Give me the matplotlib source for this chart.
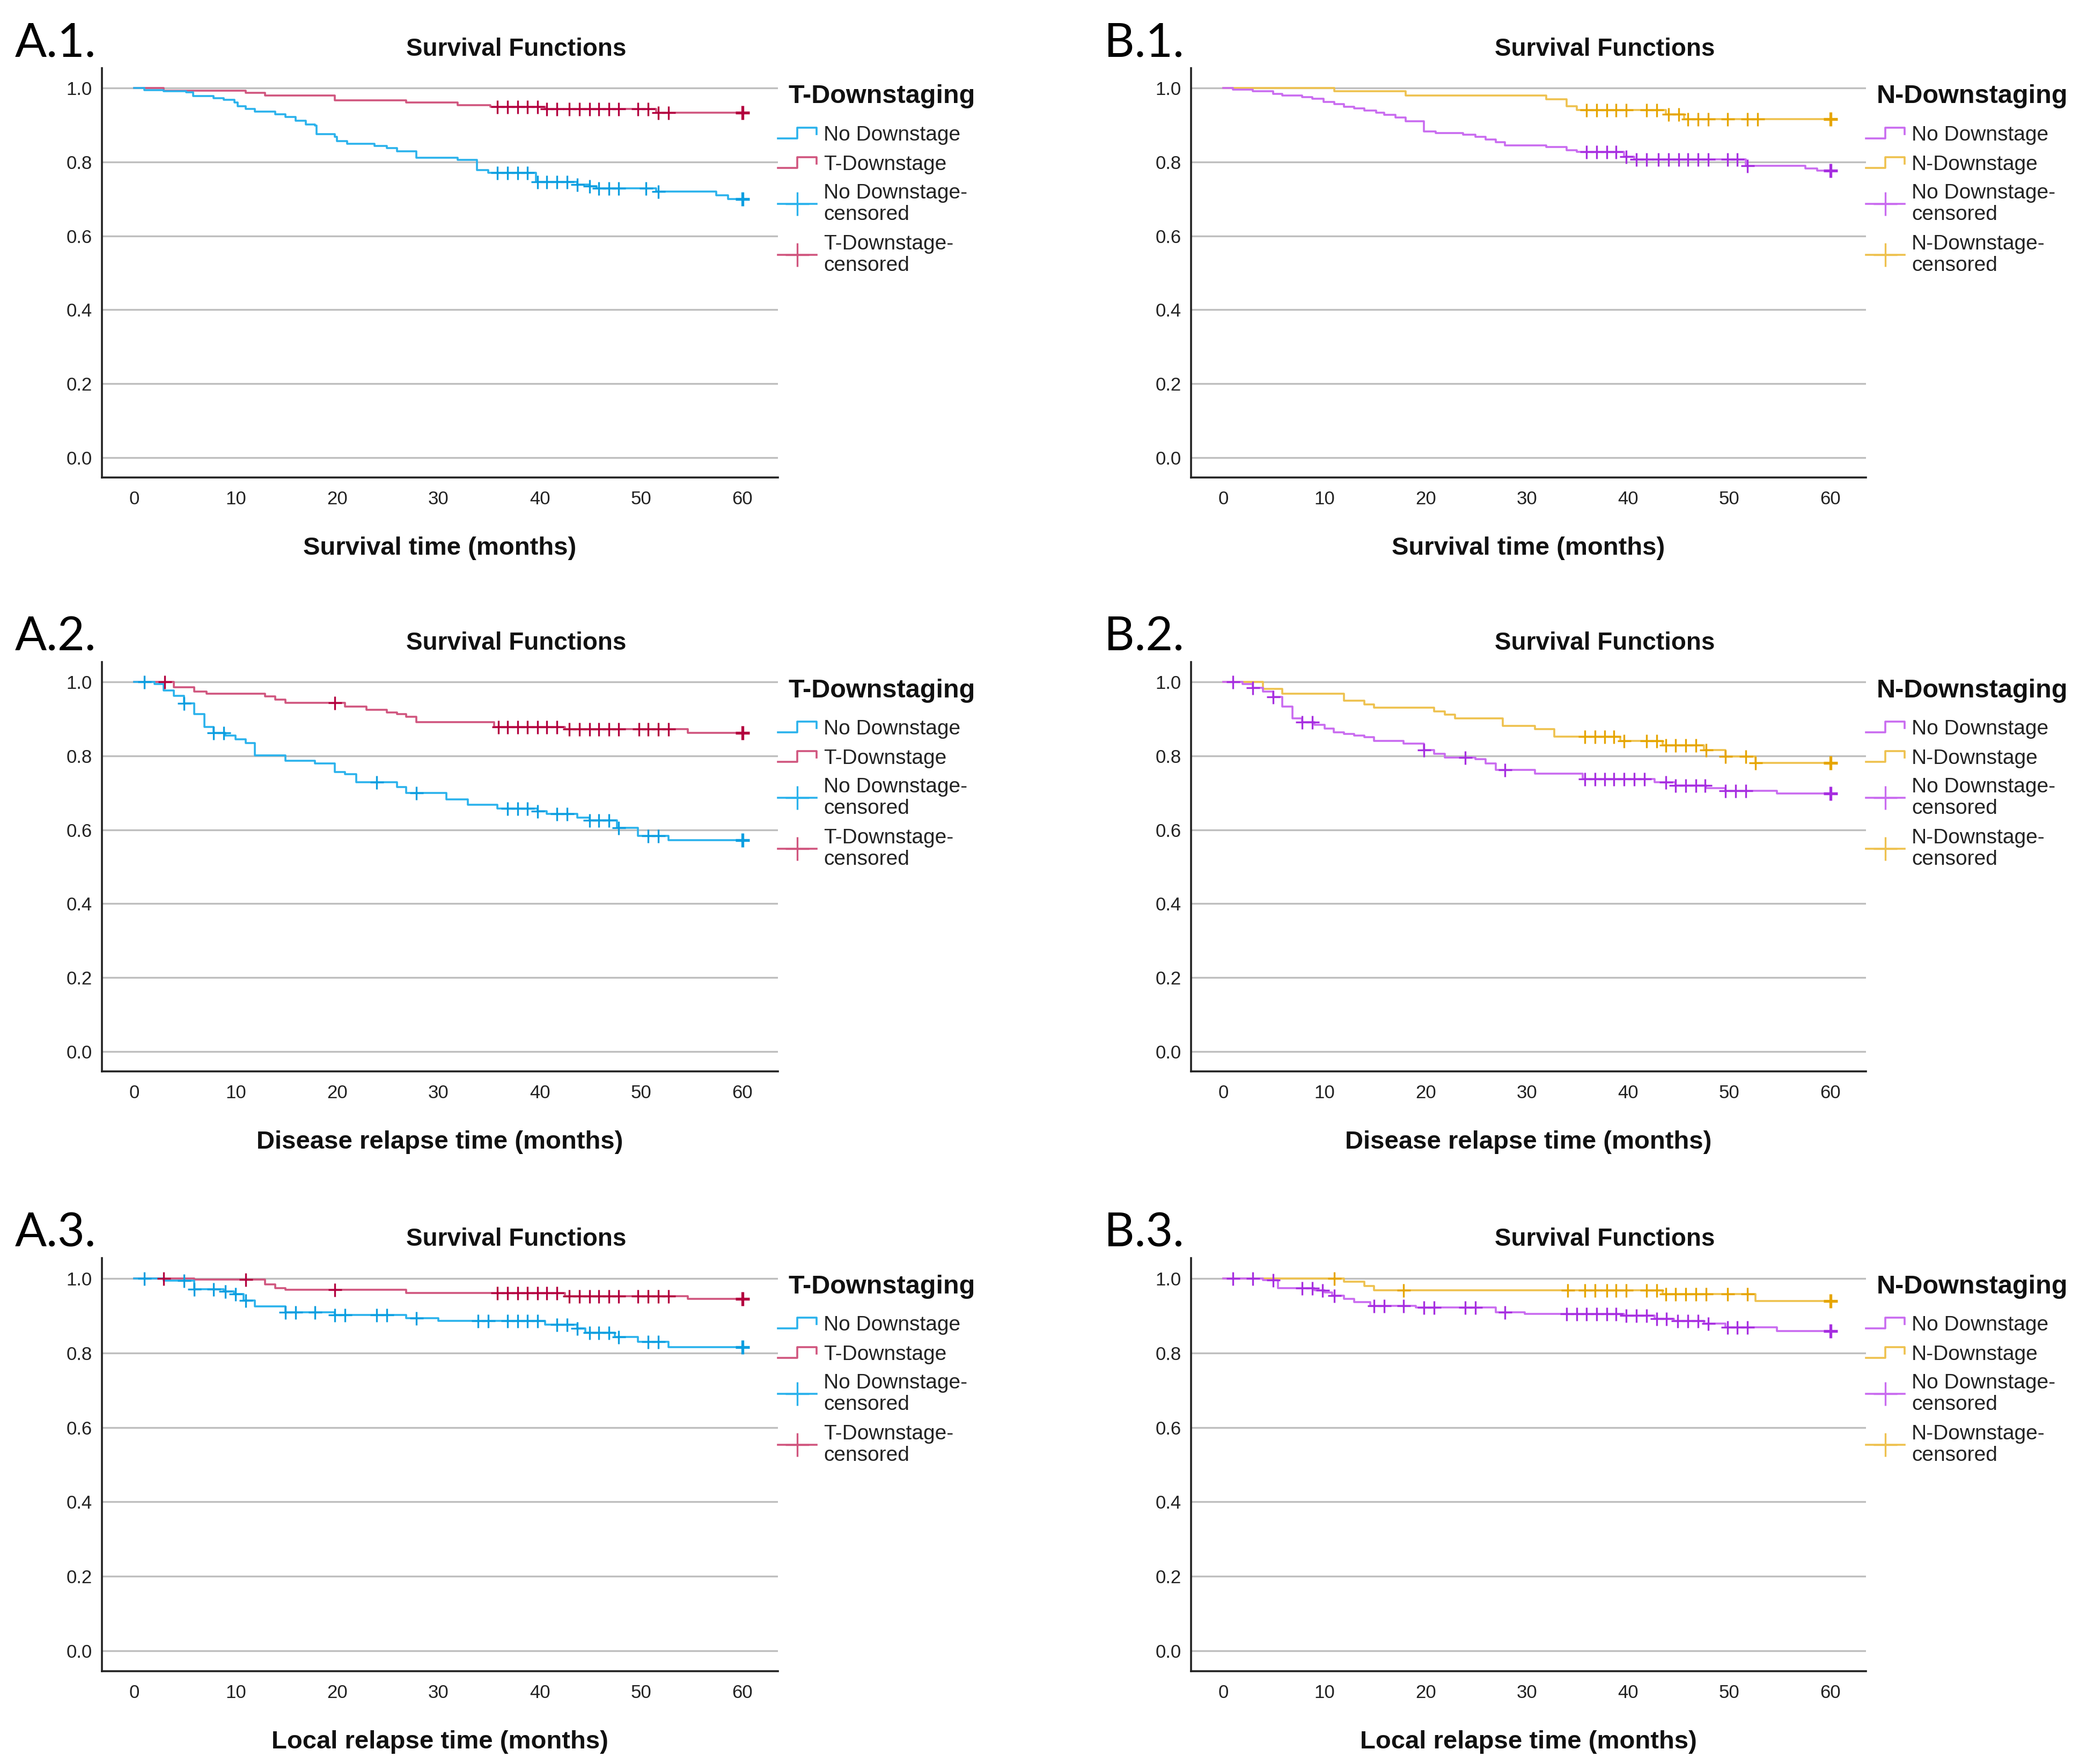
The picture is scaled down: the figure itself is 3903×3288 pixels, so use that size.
import numpy as np
import matplotlib
matplotlib.use('Agg')
import matplotlib.pyplot as plt

plt.rcParams['font.family'] = ['Liberation Sans', 'DejaVu Sans']

# ---- data (event time -> survival after the step) ----
# A.1 overall survival, T-downstaging
a1_no_t = [1.0, 2.9, 5.1, 5.8, 7.8, 8.8, 9.9, 10.2, 11.0, 11.9, 13.9, 14.9, 15.9, 16.9, 17.8, 18.0, 19.8,
           20.0, 21.0, 23.7, 24.9, 25.9, 27.8, 31.9, 33.8, 34.9, 39.6, 43.7, 44.9, 45.6, 51.5, 57.4, 58.6]
a1_no_s = [0.994, 0.992, 0.988, 0.978, 0.973, 0.968, 0.961, 0.951, 0.944, 0.937, 0.929, 0.922, 0.912, 0.902,
           0.898, 0.876, 0.868, 0.856, 0.849, 0.844, 0.837, 0.829, 0.812, 0.805, 0.778, 0.771, 0.746, 0.739,
           0.734, 0.729, 0.720, 0.710, 0.700]
a1_no_c = [35.8, 36.8, 37.8, 38.8, 39.8, 40.7, 41.7, 42.7, 43.7, 44.9, 45.8, 46.8, 47.8, 50.5, 51.7, 60]
a1_dn_t = [2.9, 11.0, 12.9, 19.8, 26.8, 31.9, 35.1, 40.5, 51.5]
a1_dn_s = [0.993, 0.987, 0.980, 0.967, 0.961, 0.954, 0.949, 0.943, 0.933]
a1_dn_c = [35.8, 36.8, 37.8, 38.8, 39.8, 40.7, 41.7, 42.9, 43.9, 44.9, 45.8, 46.8, 47.8, 49.7, 50.7, 51.7,
           52.7, 60]

# B.1 overall survival, N-downstaging
b1_no_t = [0.93, 2.9, 4.9, 5.8, 7.8, 8.8, 9.9, 10.95, 11.9, 12.9, 13.9, 15.1, 15.9, 17.0, 18.0, 19.8, 21.0,
           23.7, 24.9, 25.9, 26.9, 27.8, 31.9, 33.9, 34.9, 39.6, 40.6, 51.6, 57.5, 58.7]
b1_no_s = [0.996, 0.991, 0.985, 0.980, 0.976, 0.971, 0.963, 0.956, 0.950, 0.945, 0.940, 0.934, 0.927, 0.920,
           0.910, 0.883, 0.878, 0.874, 0.868, 0.861, 0.853, 0.845, 0.841, 0.832, 0.827, 0.815, 0.807, 0.790,
           0.783, 0.776]
b1_no_c = [35.9, 36.9, 37.9, 38.8, 39.8, 40.8, 41.8, 43.0, 44.0, 45.0, 45.9, 46.9, 47.9, 49.8, 50.8, 51.8, 60]
b1_dn_t = [10.95, 18.0, 31.9, 33.9, 34.9, 43.7, 45.5]
b1_dn_s = [0.991, 0.980, 0.970, 0.951, 0.941, 0.929, 0.916]
b1_dn_c = [35.9, 36.9, 37.9, 38.8, 39.8, 41.8, 42.8, 44.0, 45.0, 45.9, 46.9, 47.9, 49.8, 51.8, 52.8, 60]

# A.2 disease relapse, T-downstaging
a2_no_t = [1.97, 2.9, 3.9, 4.9, 5.9, 6.9, 7.8, 9.0, 10.0, 10.97, 11.9, 14.9, 17.8, 19.8, 20.8, 21.9, 25.9,
           26.8, 30.8, 32.9, 35.8, 39.8, 40.7, 43.7, 44.9, 47.6, 49.7, 52.7]
a2_no_s = [0.994, 0.977, 0.962, 0.942, 0.913, 0.879, 0.862, 0.855, 0.845, 0.835, 0.801, 0.787, 0.779, 0.757,
           0.750, 0.728, 0.716, 0.699, 0.682, 0.667, 0.657, 0.650, 0.643, 0.633, 0.626, 0.606, 0.584, 0.572]
a2_no_c = [1.0, 4.9, 7.8, 8.8, 23.9, 27.8, 36.8, 37.8, 38.8, 39.8, 41.7, 42.7, 44.9, 45.8, 46.8, 47.8, 50.7,
           51.7, 60]
a2_dn_t = [3.9, 5.9, 7.1, 12.9, 13.9, 14.9, 20.8, 22.9, 24.9, 25.9, 26.8, 27.8, 35.5, 42.5, 54.6]
a2_dn_s = [0.986, 0.974, 0.968, 0.961, 0.952, 0.943, 0.933, 0.925, 0.918, 0.913, 0.906, 0.891, 0.879, 0.872,
           0.862]
a2_dn_c = [3.0, 19.8, 35.9, 36.8, 37.8, 38.8, 39.8, 40.7, 41.7, 42.9, 43.9, 44.9, 45.8, 46.8, 47.8, 49.8, 50.7,
           51.7, 52.7, 60]

# B.2 disease relapse, N-downstaging
b2_no_t = [1.9, 2.9, 3.9, 4.9, 5.8, 6.8, 7.8, 9.0, 10.0, 10.9, 11.9, 12.9, 13.9, 14.9, 17.8, 19.8, 20.8, 21.9,
           24.9, 25.9, 26.9, 30.8, 35.5, 42.6, 44.7, 47.7, 49.6, 54.7]
b2_no_s = [0.994, 0.984, 0.974, 0.960, 0.933, 0.901, 0.891, 0.884, 0.874, 0.864, 0.860, 0.855, 0.850, 0.840,
           0.833, 0.816, 0.806, 0.796, 0.791, 0.779, 0.762, 0.752, 0.738, 0.728, 0.720, 0.713, 0.706, 0.698]
b2_no_c = [0.93, 2.9, 4.9, 7.8, 8.8, 19.8, 23.9, 27.8, 35.7, 36.7, 37.7, 38.6, 39.6, 40.6, 41.6, 43.7, 44.7,
           45.7, 46.7, 47.6, 49.6, 50.6, 51.6, 60]
b2_dn_t = [3.9, 5.8, 11.9, 13.9, 14.9, 20.8, 21.9, 22.9, 27.6, 30.8, 32.7, 39.2, 43.4, 47.5, 49.6, 52.6]
b2_dn_s = [0.981, 0.969, 0.950, 0.940, 0.930, 0.920, 0.911, 0.901, 0.881, 0.872, 0.852, 0.840, 0.829, 0.816,
           0.799, 0.781]
b2_dn_c = [35.7, 36.7, 37.7, 38.6, 39.6, 41.8, 42.8, 43.7, 44.7, 45.7, 46.7, 47.7, 49.6, 51.6, 52.6, 60]

# A.3 local relapse, T-downstaging
a3_no_t = [2.9, 5.9, 8.8, 9.8, 10.8, 11.9, 14.9, 19.8, 26.8, 30.0, 40.5, 43.7, 44.5, 47.4, 49.7, 52.7]
a3_no_s = [0.993, 0.970, 0.965, 0.957, 0.940, 0.925, 0.908, 0.901, 0.893, 0.885, 0.876, 0.866, 0.854, 0.843,
           0.829, 0.815]
a3_no_c = [1.0, 4.9, 5.9, 7.8, 9.0, 10.0, 10.97, 14.9, 15.9, 17.8, 19.8, 20.8, 23.9, 24.9, 27.8, 33.9, 34.9,
           36.8, 37.8, 38.8, 39.8, 41.7, 42.7, 43.7, 44.9, 45.8, 46.8, 47.8, 50.7, 51.7, 60]
a3_dn_t = [5.9, 12.9, 13.9, 14.9, 26.8, 42.5, 54.6]
a3_dn_s = [0.997, 0.984, 0.974, 0.969, 0.961, 0.952, 0.944]
a3_dn_c = [2.9, 10.97, 19.8, 35.8, 36.8, 37.8, 38.8, 39.8, 40.7, 41.7, 42.9, 43.9, 44.9, 45.8, 46.8, 47.8,
           49.7, 50.7, 51.7, 52.7, 60]

# B.3 local relapse, N-downstaging
b3_no_t = [3.9, 5.4, 9.0, 10.0, 10.75, 11.9, 12.9, 14.5, 19.0, 26.9, 29.8, 39.6, 42.6, 44.5, 47.5, 49.6, 54.7]
b3_no_s = [0.995, 0.974, 0.967, 0.962, 0.953, 0.945, 0.936, 0.926, 0.921, 0.909, 0.904, 0.900, 0.892, 0.885,
           0.878, 0.869, 0.858]
b3_no_c = [0.93, 2.9, 4.9, 7.8, 8.8, 9.8, 10.95, 14.9, 15.9, 17.8, 19.8, 20.8, 23.9, 24.9, 27.8, 33.9, 34.9,
           35.9, 36.9, 37.9, 38.8, 39.8, 40.8, 41.8, 42.8, 43.8, 44.9, 45.9, 46.9, 47.9, 49.8, 50.8, 51.8, 60]
b3_dn_t = [11.9, 13.9, 14.9, 43.4, 52.6]
b3_dn_s = [0.991, 0.979, 0.968, 0.957, 0.939]
b3_dn_c = [10.95, 17.8, 34.0, 35.7, 36.7, 37.9, 38.8, 39.8, 41.8, 42.8, 43.7, 44.7, 45.7, 46.7, 47.7, 49.8,
           51.8, 60]

x_ticks = [0, 10, 20, 30, 40, 50, 60]
y_ticks = [0.0, 0.2, 0.4, 0.6, 0.8, 1.0]
x_labels = ['Survival time (months)', 'Disease relapse time (months)', 'Local relapse time (months)']

BLUE, BLUE_D = '#2AB2EC', '#0C9EE0'
RED, RED_D = '#D0557E', '#B3003E'
PURP, PURP_D = '#C96BF0', '#A62EE0'
YEL, YEL_D = '#EEC14E', '#E6A500'

panels = [
    ('A.1.', 'T', (a1_no_t, a1_no_s, a1_no_c), (a1_dn_t, a1_dn_s, a1_dn_c)),
    ('B.1.', 'N', (b1_no_t, b1_no_s, b1_no_c), (b1_dn_t, b1_dn_s, b1_dn_c)),
    ('A.2.', 'T', (a2_no_t, a2_no_s, a2_no_c), (a2_dn_t, a2_dn_s, a2_dn_c)),
    ('B.2.', 'N', (b2_no_t, b2_no_s, b2_no_c), (b2_dn_t, b2_dn_s, b2_dn_c)),
    ('A.3.', 'T', (a3_no_t, a3_no_s, a3_no_c), (a3_dn_t, a3_dn_s, a3_dn_c)),
    ('B.3.', 'N', (b3_no_t, b3_no_s, b3_no_c), (b3_dn_t, b3_dn_s, b3_dn_c)),
]

W, H = 3903, 3288
fig = plt.figure(figsize=(W / 100, H / 100), dpi=100)

col_left = [190, 2220]
col_width = [1260, 1258]
row_top = [127, 1234, 2345]
row_height = [763, 763, 770]


def surv_at(t, s, x):
    idx = np.searchsorted(np.asarray(t), np.asarray(x), side='right')
    return np.concatenate([[1.0], s])[idx]


def draw_km(ax, t, s, c, col, col_d):
    xs = np.concatenate([[0], t, [60]])
    ys = np.concatenate([[1.0], s, [s[-1]]])
    ax.step(xs, ys, where='post', color=col, lw=2.6, zorder=3)
    c = np.asarray(c)
    cy = surv_at(t, s, c)
    ax.plot(c[:-1], cy[:-1], ls='none', marker='+', ms=18, mew=2.4, color=col_d, zorder=4)
    ax.plot(c[-1:], cy[-1:], ls='none', marker='+', ms=19, mew=3.8, color=col_d, zorder=4)


for i, (tag, kind, no, dn) in enumerate(panels):
    r, cidx = divmod(i, 2)
    left, wpx = col_left[cidx], col_width[cidx]
    top, hpx = row_top[r], row_height[r]
    ax = fig.add_axes([left / W, 1 - (top + hpx) / H, wpx / W, hpx / H])

    if kind == 'T':
        c_no, c_no_d, c_dn, c_dn_d = BLUE, BLUE_D, RED, RED_D
        grp = 'T-Downstage'
    else:
        c_no, c_no_d, c_dn, c_dn_d = PURP, PURP_D, YEL, YEL_D
        grp = 'N-Downstage'

    draw_km(ax, *dn, c_dn, c_dn_d)
    draw_km(ax, *no, c_no, c_no_d)

    ax.set_xlim(-3.2, 63.5)
    ax.set_ylim(-0.054, 1.054)
    ax.set_xticks(x_ticks)
    ax.set_yticks(y_ticks)
    ax.set_yticklabels(['%.1f' % v for v in y_ticks])
    ax.tick_params(length=0, labelsize=25, colors='#222222')
    ax.tick_params(axis='y', pad=13)
    ax.tick_params(axis='x', pad=17)
    ax.yaxis.grid(True, color='#BEBEBE', lw=2.4)
    ax.set_axisbelow(True)
    for sp in ['top', 'right']:
        ax.spines[sp].set_visible(False)
    for sp in ['left', 'bottom']:
        ax.spines[sp].set_color('#222222')
        ax.spines[sp].set_linewidth(2.6)

    # texts around the axes (pixel offsets converted to axes fraction)
    ax.text(0.613, 1 + 35 / hpx, 'Survival Functions', transform=ax.transAxes, ha='center', va='center',
            fontsize=33, fontweight='bold', color='#111111')
    ax.text(0.5, -132 / hpx, x_labels[r], transform=ax.transAxes, ha='center', va='center',
            fontsize=34, fontweight='bold', color='#111111')
    ax.text(-(162 / wpx), 1 + 46 / hpx, tag, transform=ax.transAxes, ha='left', va='center',
            fontsize=63, family=['Lato', 'DejaVu Sans'], color='black')

    # legend drawn by hand, SPSS style
    def ax_xy(dx, dy):
        return 1 + dx / wpx, 1 - dy / hpx

    tx, ty = ax_xy(20, 53)
    ax.text(tx, ty, kind + '-Downstaging', transform=ax.transAxes, ha='left', va='center',
            fontsize=35, fontweight='bold', color='#111111')
    entries = [('No Downstage', c_no, 125), (grp, c_dn, 180)]
    for lab, col, dy in entries:
        hx = [ax_xy(0, 0)[0], ax_xy(36, 0)[0], ax_xy(36, 0)[0], ax_xy(72, 0)[0], ax_xy(72, 0)[0]]
        hy = [ax_xy(0, dy + 6)[1], ax_xy(0, dy + 6)[1], ax_xy(0, dy - 14)[1], ax_xy(0, dy - 14)[1],
              ax_xy(0, dy - 2)[1]]
        ax.plot(hx, hy, color=col, lw=2.6, transform=ax.transAxes, clip_on=False)
        lx, ly = ax_xy(85, dy)
        ax.text(lx, ly, lab, transform=ax.transAxes, ha='left', va='center', fontsize=28, color='#222222')
    cens = [('No Downstage-', c_no, 233), (grp + '-', c_dn, 328)]
    for lab, col, dy in cens:
        y0 = ax_xy(0, dy + 20)[1]
        ax.plot([ax_xy(0, 0)[0], ax_xy(72, 0)[0]], [y0, y0], color=col, lw=2.6,
                transform=ax.transAxes, clip_on=False)
        ax.plot([ax_xy(36, 0)[0]], [y0], marker='+', ms=32, mew=2.4, color=col,
                transform=ax.transAxes, clip_on=False)
        lx, ly = ax_xy(85, dy)
        ax.text(lx, ly, lab, transform=ax.transAxes, ha='left', va='center', fontsize=28, color='#222222')
        lx, ly = ax_xy(85, dy + 40)
        ax.text(lx, ly, 'censored', transform=ax.transAxes, ha='left', va='center', fontsize=28,
                color='#222222')

fig.savefig('out.png', dpi=100, facecolor='white')
